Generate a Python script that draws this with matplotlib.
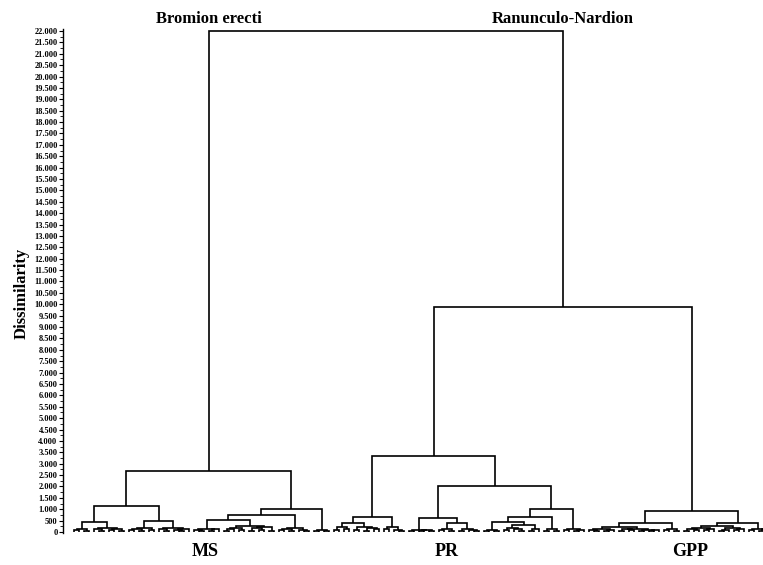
import matplotlib
matplotlib.use("Agg")
import matplotlib.pyplot as plt
from matplotlib.collections import LineCollection
from matplotlib.ticker import MultipleLocator, FuncFormatter

# Dendrogram encoded as merge heights between adjacent leaves (in leaf order).
# The tree is rebuilt by splitting recursively at the largest height.
ms_gaps = [80, 150, 50,
           440,
           110, 40, 160, 70, 120, 50,
           1130,
           70, 130, 40, 180, 80,
           480,
           120, 50, 170, 80, 40, 150,
           2700,
           90, 40, 150, 60, 110,
           540,
           50, 120, 190, 80, 250, 40, 160, 90, 210, 60,
           740,
           80, 130, 50, 190, 90, 40,
           1020,
           40, 80, 30]
pr_gaps = [80, 230, 150,
           400,
           100, 230, 60, 180, 110,
           670,
           110, 230, 80, 50,
           3350,
           50, 100, 40, 90, 60,
           610,
           80, 140, 50,
           390,
           60, 130, 90, 40,
           2030,
           50, 100, 40,
           440,
           80, 190, 110, 50,
           300,
           50, 110,
           670,
           60, 130, 40,
           1010,
           80, 140, 40, 100]
gpp_gaps = [90, 40, 140, 60, 100,
            220,
            50, 110, 80, 150, 40, 100, 60, 90,
            400,
            80, 120, 50,
            935,
            60, 140, 100, 190, 80, 150,
            260,
            50, 100, 170, 80, 120,
            390,
            80, 150, 50, 110]
ms_pr_height = 22000
pr_gpp_height = 9880

cluster_labels = ["MS", "PR", "GPP"]
alliance_labels = ["Bromion erecti", "Ranunculo-Nardion"]

plt.rcParams['font.family'] = ['Liberation Serif', 'DejaVu Serif']
plt.rcParams['font.weight'] = 'bold'

gaps = ms_gaps + [ms_pr_height] + pr_gaps + [pr_gpp_height] + gpp_gaps
n_leaves = len(gaps) + 1

fig = plt.figure(figsize=(7.63, 5.65), dpi=100)
ax = fig.add_axes([0.0826, 0.0572, 0.9174, 0.892])

segments = []


def build(lo, hi):
    if lo == hi:
        return float(lo), 0.0
    sub = gaps[lo:hi]
    j = max(range(len(sub)), key=lambda t: sub[t])
    k = lo + j
    h = gaps[k]
    xl, hl = build(lo, k)
    xr, hr = build(k + 1, hi)
    segments.append([(xl, hl), (xl, h), (xr, h), (xr, hr)])
    return (xl + xr) / 2.0, h


build(0, n_leaves - 1)

lc = LineCollection(segments, colors='black', linewidths=1.2, capstyle='butt',
                    joinstyle='miter')
ax.add_collection(lc)

ax.set_xlim(-2.2, 137.8)
ax.set_ylim(-30, 22100)

for s in ['top', 'right', 'bottom']:
    ax.spines[s].set_visible(False)
ax.spines['left'].set_linewidth(1.0)
ax.set_xticks([])
ax.yaxis.set_major_locator(MultipleLocator(500))
ax.yaxis.set_minor_locator(MultipleLocator(250))
ax.yaxis.set_major_formatter(FuncFormatter(lambda v, p: f"{int(round(v)):,}".replace(",", ".")))
ax.tick_params(axis='y', which='major', labelsize=6, length=3, width=0.8, pad=1)
ax.tick_params(axis='y', which='minor', length=2, width=0.6)
for lab in ax.get_yticklabels():
    lab.set_fontweight('bold')

fig.text(0.028, 1 - 293 / 565, "Dissimilarity", rotation=90, ha='center', va='center',
         fontsize=12, fontweight='bold')

fig.text(209 / 763, 1 - 19 / 565, alliance_labels[0], ha='center', va='center',
         fontsize=12, fontweight='bold')
fig.text(563 / 763, 1 - 19 / 565, alliance_labels[1], ha='center', va='center',
         fontsize=12, fontweight='bold')

for lab, px in zip(cluster_labels, [205, 447, 690]):
    fig.text(px / 763, 1 - 551 / 565, lab, ha='center', va='center',
             fontsize=13, fontweight='bold')

fig.savefig("out.png", dpi=100)
